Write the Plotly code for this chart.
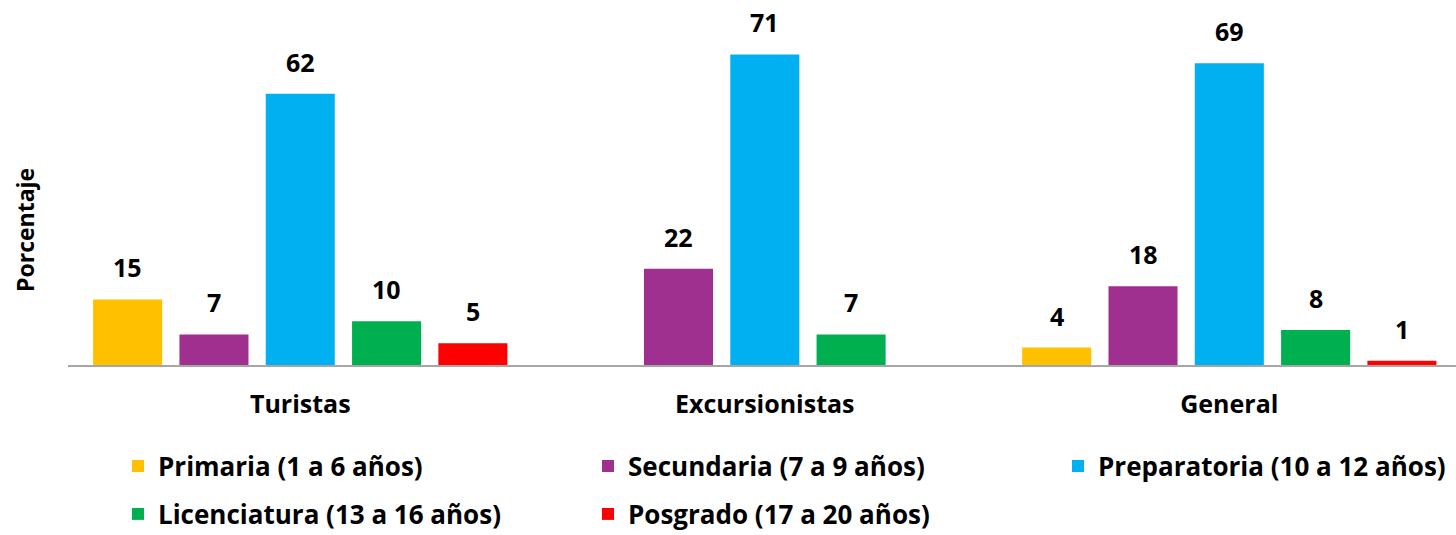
import plotly.graph_objects as go

categories = ["Turistas", "Excursionistas", "General"]
series_names = [
    "Primaria (1 a 6 años)",
    "Secundaria (7 a 9 años)",
    "Preparatoria (10 a 12 años)",
    "Licenciatura (13 a 16 años)",
    "Posgrado (17 a 20 años)",
]
primaria = [15, None, 4]
secundaria = [7, 22, 18]
preparatoria = [62, 71, 69]
licenciatura = [10, 7, 8]
posgrado = [5, None, 1]
series_values = [primaria, secundaria, preparatoria, licenciatura, posgrado]
colors = ["#FFC000", "#A0308F", "#00B0F0", "#00B050", "#FF0000"]

FONT = "Open Sans"
FS = 25
W, H = 1456, 535
ML, MR, MT, MB = 68, 0, 15, 170
BARGAP = 0.071
GROUPGAP = 0.2
XMAX = 2.488  # last category slightly cut at the right edge, as in the original

fig = go.Figure()
legend_ids = ["legend", "legend2", "legend3", "legend4", "legend5"]
for name, vals, col, lg in zip(series_names, series_values, colors, legend_ids):
    fig.add_trace(go.Bar(
        x=categories, y=vals, name=name, marker_color=col,
        marker_line_width=0, legend=lg,
    ))

# value labels above bars
n = len(series_values)
slot = (1 - BARGAP) / n
for i, vals in enumerate(series_values):
    for j, v in enumerate(vals):
        if v is None:
            continue
        fig.add_annotation(
            x=j + (i - (n - 1) / 2) * slot, y=v, xref="x", yref="y",
            text=f"<b>{v}</b>", showarrow=False, yanchor="bottom", yshift=13,
            font=dict(family=FONT, size=FS, color="black"),
        )

fig.add_annotation(
    text="<b>Porcentaje</b>", textangle=-90, showarrow=False,
    xref="paper", yref="paper", x=-43 / (W - ML - MR), y=(365 - 230) / (H - MT - MB),
    xanchor="center", yanchor="middle",
    font=dict(family=FONT, size=FS - 2, color="black"),
)

leg_common = dict(
    orientation="h", xref="container", yref="container",
    xanchor="left", yanchor="middle",
    font=dict(family=FONT, size=26, color="black", weight="bold"),
    itemclick=False, itemdoubleclick=False, bgcolor="rgba(0,0,0,0)",
)
leg_pos = [(118, 466), (588, 466), (1058, 466), (118, 514), (588, 514)]
leg_layout = {}
for lid, (lx, ly) in zip(legend_ids, leg_pos):
    leg_layout[lid] = dict(leg_common, x=lx / W, y=1 - ly / H)

fig.update_layout(
    width=W, height=H,
    margin=dict(l=ML, r=MR, t=MT, b=MB, autoexpand=False),
    paper_bgcolor="white", plot_bgcolor="white",
    barmode="group", bargap=BARGAP, bargroupgap=GROUPGAP,
    font=dict(family=FONT, size=FS, color="black"),
    showlegend=True,
    xaxis=dict(
        range=[-0.5, XMAX],
        showline=True, linecolor="#A6A6A6", linewidth=1.5,
        ticks="", ticklabelstandoff=16,
        tickfont=dict(family=FONT, size=FS, color="black", weight="bold"),
        showgrid=False, zeroline=False,
    ),
    yaxis=dict(
        range=[0, 80], visible=False, showgrid=False, zeroline=False,
    ),
    **leg_layout,
)

fig.write_html(
    "out.html",
    config={"displayModeBar": False},
    post_script="document.body.style.margin='0';",
)
